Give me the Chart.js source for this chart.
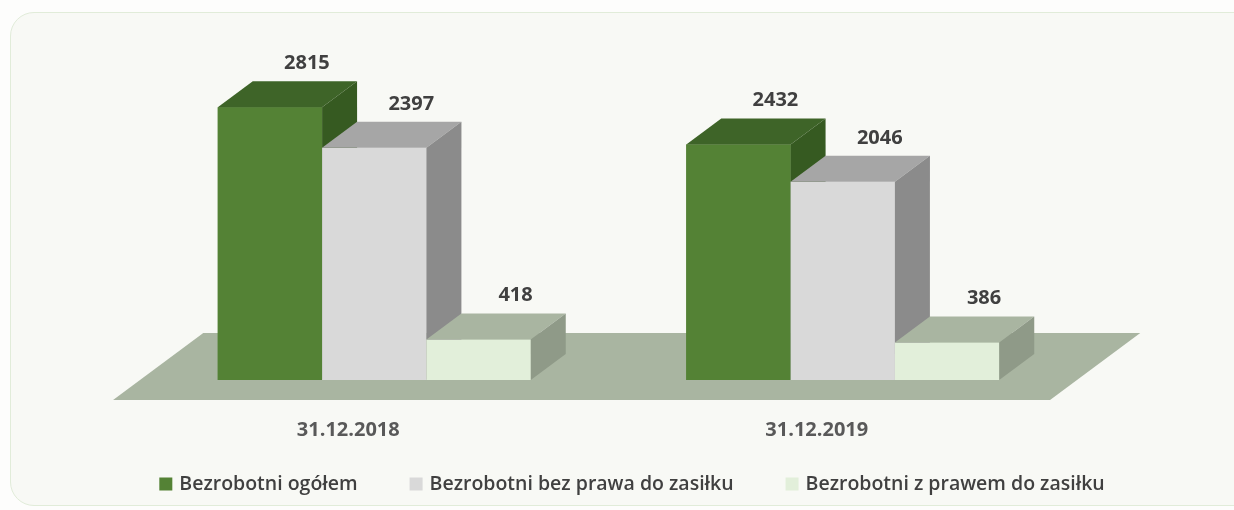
<!DOCTYPE html>
<html lang="pl">
<head>
<meta charset="utf-8">
<title>Bezrobotni</title>
<script src="https://cdn.jsdelivr.net/npm/chart.js@4.4.1/dist/chart.umd.min.js"></script>
<style>
    html, body { margin: 0; padding: 0; background: #fdfdfc; }
    .frame {
        position: absolute; left: 10px; top: 12px; width: 1270px; height: 492px;
        border: 1px solid #e1ecd9; border-radius: 24px; background: #f8f9f5;
    }
    .wrap { position: absolute; left: 0; top: 0; width: 1234px; height: 510px; }
</style>
</head>
<body>
<div class="frame"></div>
<div class="wrap"><canvas id="chart" width="1234" height="510"></canvas></div>
<script>
// dane z wykresu
const categories = ['31.12.2018', '31.12.2019'];
const seriesNames = ['Bezrobotni ogółem', 'Bezrobotni bez prawa do zasiłku', 'Bezrobotni z prawem do zasiłku'];
const ogolem = [2815, 2432];
const bezPrawa = [2397, 2046];
const zPrawem = [418, 386];

// kolory: przód, góra, bok
const faces = [
    { front: '#548235', top: '#3e6428', side: '#365a21' },
    { front: '#d9d9d9', top: '#a6a6a6', side: '#8b8b8b' },
    { front: '#e2efda', top: '#a9b5a1', side: '#8f9a88' }
];
const FLOOR = '#a9b5a1';
const DX = 35, DY = 26;

function path(ctx, pts, color) {
    ctx.beginPath();
    ctx.moveTo(pts[0][0], pts[0][1]);
    for (let i = 1; i < pts.length; i++) ctx.lineTo(pts[i][0], pts[i][1]);
    ctx.closePath();
    ctx.fillStyle = color;
    ctx.fill();
}

const bars3d = {
    id: 'bars3d',
    beforeDatasetsDraw(chart) {
        // podłoga pod słupkami
        const { ctx, chartArea } = chart;
        const y0 = chart.scales.y.getPixelForValue(0);
        const k = DX / DY;
        const front = 20, back = DY + 21;
        path(ctx, [
            [chartArea.left - front * k, y0 + front],
            [chartArea.right - front * k, y0 + front],
            [chartArea.right + back * k, y0 - back],
            [chartArea.left + back * k, y0 - back]
        ], FLOOR);
    },
    afterDatasetsDraw(chart) {
        const ctx = chart.ctx;
        // słupki 3D rysowane od lewej do prawej: przód, góra, bok
        chart.data.datasets.forEach((ds, i) => {
            const f = faces[i];
            chart.getDatasetMeta(i).data.forEach(bar => {
                const l = bar.x - bar.width / 2, r = bar.x + bar.width / 2;
                const t = bar.y, b = bar.base;
                path(ctx, [[l, t], [r, t], [r, b], [l, b]], f.front);
                path(ctx, [[l, t], [l + DX, t - DY], [r + DX, t - DY], [r, t]], f.top);
                path(ctx, [[r, t], [r + DX, t - DY], [r + DX, b - DY], [r, b]], f.side);
            });
        });
        ctx.save();
        ctx.font = 'bold 20px "Open Sans"';
        ctx.fillStyle = '#404040';
        ctx.textAlign = 'center';
        ctx.textBaseline = 'middle';
        chart.data.datasets.forEach((ds, i) => {
            chart.getDatasetMeta(i).data.forEach((bar, j) => {
                ctx.fillText(ds.data[j], bar.x + DX + 2, bar.y - DY - 18);
            });
        });
        ctx.restore();
    },
    afterDraw(chart) {
        // legenda
        const ctx = chart.ctx;
        ctx.save();
        ctx.font = '600 19.5px "Open Sans"';
        ctx.textBaseline = 'middle';
        const box = 13, gapText = 7, gapItem = 52;
        const widths = seriesNames.map(n => ctx.measureText(n).width);
        let total = widths.reduce((a, w) => a + box + gapText + w, 0) + gapItem * (seriesNames.length - 1);
        let x = 632 - total / 2;
        const y = 484;
        seriesNames.forEach((n, i) => {
            ctx.fillStyle = faces[i].front;
            ctx.fillRect(x, y - box / 2, box, box);
            ctx.fillStyle = '#404040';
            ctx.fillText(n, x + box + gapText, y);
            x += box + gapText + widths[i] + gapItem;
        });
        ctx.restore();
    }
};

const makeSet = (i, data) => ({
    label: seriesNames[i],
    data: data,
    backgroundColor: faces[i].front,
    borderWidth: 0
});

new Chart(document.getElementById('chart'), {
    type: 'bar',
    data: {
        labels: categories,
        datasets: [makeSet(0, ogolem), makeSet(1, bezPrawa), makeSet(2, zPrawem)]
    },
    options: {
        responsive: false,
        animation: false,
        layout: { padding: { top: 41, left: 140, right: 157, bottom: 30 } },
        datasets: { bar: { categoryPercentage: 0.668, barPercentage: 1 } },
        plugins: { legend: { display: false }, tooltip: { enabled: false } },
        scales: {
            x: {
                grid: { display: false, drawTicks: false },
                border: { display: false },
                ticks: {
                    color: '#595959',
                    font: { family: 'Open Sans', size: 20, weight: 'bold' },
                    padding: 38,
                    labelOffset: -26
                }
            },
            y: { display: false, min: 0, max: 3500 }
        }
    },
    plugins: [bars3d]
});
</script>
</body>
</html>
